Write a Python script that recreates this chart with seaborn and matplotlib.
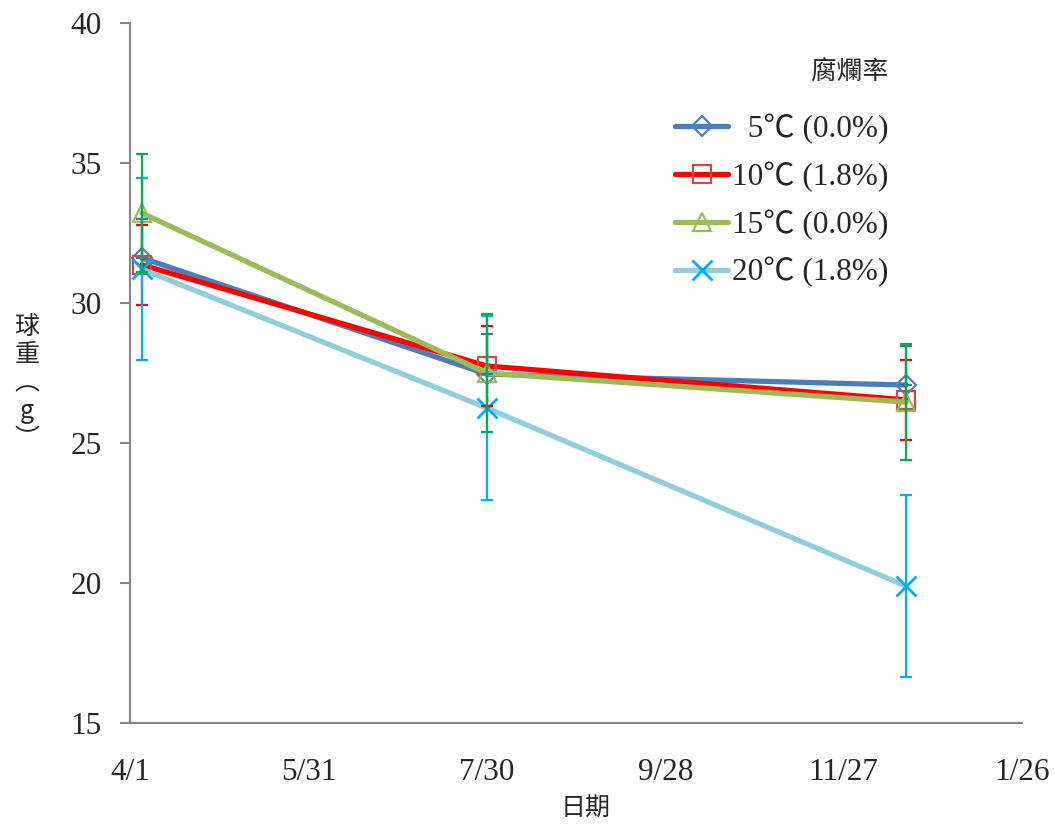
import numpy as np
import pandas as pd
import matplotlib
matplotlib.use("Agg")
import matplotlib.pyplot as plt
import seaborn as sns
from matplotlib.font_manager import FontProperties

# ---------------- data ----------------
sample_dates = ["2013-04-05", "2013-07-30", "2013-12-18"]
tick_dates = ["2013-04-01", "2013-05-31", "2013-07-30", "2013-09-28", "2013-11-27", "2014-01-26"]
tick_labels = ["4/1", "5/31", "7/30", "9/28", "11/27", "1/26"]

series_names = ["  5℃ (0.0%)", "10℃ (1.8%)", "15℃ (0.0%)", "20℃ (1.8%)"]
w5 = [31.61, 27.46, 27.07]
w10 = [31.36, 27.75, 26.54]
w15 = [33.21, 27.50, 26.46]
w20 = [31.21, 26.25, 19.89]
# upper / lower error amounts
sd5_up = [1.39, 1.43, 1.40]
sd5_lo = [0.0, 0.0, 0.0]
sd10 = [1.43, 1.43, 1.43]
sd15 = [2.11, 2.11, 2.08]
sd20 = [3.25, 3.27, 3.25]

legend_title = "腐爛率"
x_label = "日期"
y_label = "球\n重\n︵\ng\n︶"

# ---------------- styles ----------------
line_colors = ["#4a7ebb", "#ff0000", "#9bbb59", "#92cddc"]
marker_edges = ["#4f81bd", "#c0504d", "#9bbb59", "#00b0f0"]
err_colors = ["#2e75b6", "#ff0000", "#00b050", "#00b0f0"]
markers = ["D", "s", "^", "x"]
msizes = [10, 13, 13, 14]

sns.set_theme(style="white")
plt.rcParams["font.family"] = ["Liberation Serif", "Noto Sans CJK TC", "DejaVu Sans"]

origin = pd.Timestamp(tick_dates[0])
xd = [(pd.Timestamp(d) - origin).days for d in sample_dates]
xt = [(pd.Timestamp(d) - origin).days for d in tick_dates]

fig = plt.figure(figsize=(10.55, 8.25), dpi=100)
ax = fig.add_axes([130 / 1055, 1 - 723 / 825, (1022 - 130) / 1055, (723 - 23) / 825])

values = [w5, w10, w15, w20]
errs = [[sd5_lo, sd5_up], sd10, sd15, sd20]

for i, (name, vals) in enumerate(zip(series_names, values)):
    df = pd.DataFrame({"x": xd, "y": vals})
    sns.lineplot(data=df, x="x", y="y", ax=ax, color=line_colors[i], linewidth=3.8,
                 marker=markers[i], markersize=msizes[i], markerfacecolor="none",
                 markeredgecolor=marker_edges[i], markeredgewidth=1.6 if markers[i] != "x" else 2.0,
                 label=name, zorder=3 + i * 0.1, solid_capstyle="round")

for i in [0, 1, 3, 2]:
    ax.errorbar(xd, values[i], yerr=errs[i], fmt="none", ecolor=err_colors[i],
                elinewidth=1.6, capsize=4.5, capthick=1.6, zorder=4)

ax.set_xlim(xt[0], xt[-1])
ax.set_ylim(15, 40)
ax.set_yticks([15, 20, 25, 30, 35, 40])
ax.set_xticks(xt)
ax.set_xticklabels(tick_labels)

for s in ["top", "right"]:
    ax.spines[s].set_visible(False)
for s in ["left", "bottom"]:
    ax.spines[s].set_color("#868686")
    ax.spines[s].set_linewidth(1.5)

ax.tick_params(axis="y", length=7.2, width=1.5, color="#868686", labelsize=22.5, pad=13, left=True)
ax.tick_params(axis="x", length=0, labelsize=22.5, pad=25)

cjk = FontProperties(family=["Noto Sans CJK TC"], size=18)
ax.set_xlabel(x_label, fontproperties=cjk)
ax.xaxis.set_label_coords((586 - 130) / 892, -(808 - 723) / 700)
ax.xaxis.label.set_va("center")
ax.set_ylabel(y_label, fontproperties=cjk, rotation=0, linespacing=1.1)
ax.yaxis.set_label_coords((27 - 130) / 892, 1 - (383 - 23) / 700)
ax.yaxis.label.set_va("center")
ax.yaxis.label.set_ha("center")

leg_font = FontProperties(family=["Liberation Serif", "Noto Sans CJK TC"], size=22.5)
title_font = FontProperties(family=["Noto Sans CJK TC"], size=18.5)
leg = ax.legend(loc="upper right", bbox_to_anchor=((888 - 130) / 892, 1 - (60 - 23) / 700),
                frameon=False, prop=leg_font, title=legend_title, title_fontproperties=title_font,
                handlelength=1.7, handletextpad=0.1, labelspacing=0.56, borderaxespad=0,
                borderpad=0, alignment="right")
leg._legend_box.sep = 20
for h in leg.legend_handles:
    h.set_linewidth(3.8)

ax.grid(False)
fig.savefig("out.png", dpi=100)
